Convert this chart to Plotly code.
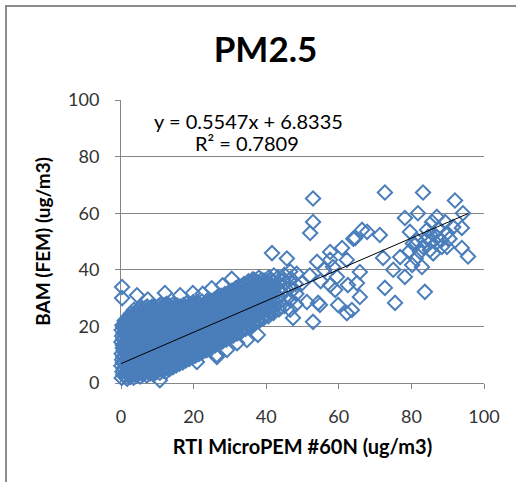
import plotly.graph_objects as go

# ---- data (x = RTI MicroPEM #60N, y = BAM FEM), ug/m3 ----
# dense low-concentration cluster
core_points = [
    (0.2,1.8),(0.4,4.0),(0.1,6.1),(0.3,8.2),(0.2,10.3),(0.5,12.4),(0.1,14.5),(0.3,16.6),(0.2,18.7),(0.4,20.4),
    (1.0,2.5),(0.9,4.8),(1.1,7.1),(0.8,9.4),(1.0,11.6),(1.2,13.7),(0.9,15.9),(1.1,18.1),(0.8,20.5),(1.0,22.0),
    (1.7,1.5),(1.9,3.6),(1.6,5.9),(1.8,8.3),(1.7,10.6),(2.0,12.9),(1.6,15.2),(1.8,17.4),(1.9,19.6),(1.7,21.7),(2.0,23.3),
    (2.6,2.1),(2.8,4.4),(2.5,6.7),(2.7,9.0),(2.6,11.3),(2.9,13.5),(2.5,15.8),(2.7,18.0),(2.8,20.2),(2.6,22.6),(2.7,24.5),
    (3.5,1.9),(3.6,4.1),(3.4,6.4),(3.7,8.6),(3.5,10.9),(3.3,13.1),(3.6,15.4),(3.5,17.7),(3.4,19.9),(3.7,22.1),(3.5,24.3),(3.6,25.9),
    (4.4,2.8),(4.6,5.0),(4.3,7.3),(4.5,9.6),(4.4,11.8),(4.2,14.1),(4.5,16.3),(4.4,18.6),(4.6,20.8),(4.3,23.0),(4.5,25.2),
    (5.3,2.3),(5.2,4.6),(5.4,6.8),(5.3,9.1),(5.5,11.4),(5.1,13.6),(5.3,15.9),(5.4,18.1),(5.2,20.4),(5.3,22.7),(5.5,24.9),(5.2,26.6),
    (6.2,3.1),(6.3,5.4),(6.1,7.7),(6.4,9.9),(6.2,12.2),(6.0,14.5),(6.3,16.7),(6.2,19.0),(6.1,21.2),(6.4,23.5),(6.2,25.7),
    (7.1,2.7),(7.2,4.9),(7.0,7.2),(7.3,9.4),(7.1,11.7),(6.9,13.9),(7.2,16.2),(7.1,18.4),(7.0,20.7),(7.3,22.9),(7.1,25.1),(7.2,27.0),
    (8.0,3.4),(8.1,5.7),(7.9,8.0),(8.2,10.3),(8.0,12.5),(7.8,14.8),(8.1,17.0),(8.0,19.3),(7.9,21.5),(8.2,23.8),(8.0,26.1),
    (8.9,3.0),(9.0,5.2),(8.8,7.5),(9.1,9.8),(8.9,12.0),(8.7,14.3),(9.0,16.5),(8.9,18.8),(8.8,21.0),(9.1,23.3),(8.9,25.5),(9.0,27.2),
    (9.8,3.9),(9.9,6.1),(9.7,8.4),(10.0,10.6),(9.8,12.9),(9.6,15.1),(9.9,17.4),(9.8,19.6),(9.7,21.9),(10.0,24.1),(9.8,26.4),
    (10.7,3.6),(10.8,5.8),(10.6,8.1),(10.9,10.3),(10.7,12.6),(10.5,14.8),(10.8,17.1),(10.7,19.3),(10.6,21.6),(10.9,23.8),(10.7,26.0),(10.8,27.6),
    (11.6,4.4),(11.7,6.6),(11.5,8.9),(11.8,11.1),(11.6,13.4),(11.4,15.6),(11.7,17.9),(11.6,20.1),(11.5,22.4),(11.8,24.6),(11.6,26.8),
    (12.5,4.1),(12.6,6.3),(12.4,8.6),(12.7,10.8),(12.5,13.1),(12.3,15.3),(12.6,17.6),(12.5,19.8),(12.4,22.1),(12.7,24.3),(12.5,26.5),(12.6,28.0),
    (13.4,5.0),(13.5,7.2),(13.3,9.5),(13.6,11.7),(13.4,14.0),(13.2,16.2),(13.5,18.5),(13.4,20.7),(13.3,23.0),(13.6,25.2),(13.4,27.3),
    (14.3,5.6),(14.4,7.8),(14.2,10.1),(14.5,12.3),(14.3,14.6),(14.1,16.8),(14.4,19.1),(14.3,21.3),(14.2,23.6),(14.5,25.8),(14.3,27.7),
    (15.2,6.2),(15.3,8.4),(15.1,10.7),(15.4,12.9),(15.2,15.2),(15.0,17.4),(15.3,19.7),(15.2,21.9),(15.1,24.2),(15.4,26.4),
    (16.1,6.8),(16.2,9.0),(16.0,11.3),(16.3,13.5),(16.1,15.8),(15.9,18.0),(16.2,20.3),(16.1,22.5),(16.0,24.8),(16.3,27.0),
    (17.0,7.3),(17.1,9.6),(16.9,11.8),(17.2,14.1),(17.0,16.3),(16.8,18.6),(17.1,20.8),(17.0,23.1),(16.9,25.3),(17.2,27.5),
    (17.9,8.0),(18.0,10.2),(17.8,12.5),(18.1,14.7),(17.9,17.0),(17.7,19.2),(18.0,21.5),(17.9,23.7),(17.8,26.0),(18.1,28.1),
    (18.8,8.5),(18.9,10.8),(18.7,13.0),(19.0,15.3),(18.8,17.5),(18.6,19.8),(18.9,22.0),(18.8,24.3),(18.7,26.5),
    (19.7,9.1),(19.8,11.4),(19.6,13.6),(19.9,15.9),(19.7,18.1),(19.5,20.4),(19.8,22.6),(19.7,24.9),(19.6,27.1),(19.9,28.6),
    (20.6,9.7),(20.7,11.9),(20.5,14.2),(20.8,16.4),(20.6,18.7),(20.4,20.9),(20.7,23.2),(20.6,25.4),(20.5,27.7),
    (21.5,10.3),(21.6,12.5),(21.4,14.8),(21.7,17.0),(21.5,19.3),(21.3,21.5),(21.6,23.8),(21.5,26.0),(21.4,28.2),
    (22.4,10.9),(22.5,13.1),(22.3,15.4),(22.6,17.6),(22.4,19.9),(22.2,22.1),(22.5,24.4),(22.4,26.6),(22.3,28.8),
    (23.3,11.6),(23.4,13.8),(23.2,16.1),(23.5,18.3),(23.3,20.6),(23.1,22.8),(23.4,25.1),(23.3,27.3),
    (24.2,12.2),(24.3,14.4),(24.1,16.7),(24.4,18.9),(24.2,21.2),(24.0,23.4),(24.3,25.7),(24.2,27.9),(24.1,29.6),
    (25.1,12.8),(25.2,15.0),(25.0,17.3),(25.3,19.5),(25.1,21.8),(24.9,24.0),(25.2,26.3),(25.1,28.5),
]

# more readings inside the same dense cluster
core_points_b = [
    (0.6,2.9),(0.7,5.0),(0.5,7.2),(0.6,9.2),(0.7,11.3),(0.5,13.4),(0.6,15.5),(0.7,17.6),(0.6,19.6),
    (1.4,3.6),(1.3,5.9),(1.5,8.2),(1.4,10.5),(1.3,12.6),(1.5,14.8),(1.4,17.0),(1.3,19.3),(1.4,21.2),
    (2.2,2.5),(2.3,4.7),(2.1,7.1),(2.2,9.4),(2.3,11.7),(2.1,14.0),(2.2,16.3),(2.3,18.5),(2.1,20.6),(2.2,22.5),
    (3.0,3.2),(3.1,5.5),(2.9,7.8),(3.0,10.1),(3.1,12.4),(2.9,14.6),(3.0,16.9),(3.1,19.1),(3.0,21.4),(2.9,23.5),
    (3.9,3.0),(4.0,5.2),(3.8,7.5),(3.9,9.7),(4.0,12.0),(3.8,14.2),(3.9,16.5),(4.0,18.8),(3.9,21.0),(3.8,23.2),(4.0,25.1),
    (4.8,3.9),(4.9,6.1),(4.7,8.4),(4.8,10.7),(4.9,12.9),(4.7,15.2),(4.8,17.4),(4.9,19.7),(4.8,21.9),(4.7,24.1),(4.9,26.0),
    (5.7,3.4),(5.8,5.7),(5.6,7.9),(5.7,10.2),(5.8,12.5),(5.6,14.7),(5.7,17.0),(5.8,19.2),(5.7,21.5),(5.6,23.8),(5.8,25.8),
    (6.6,4.2),(6.7,6.5),(6.5,8.8),(6.6,11.0),(6.7,13.3),(6.5,15.6),(6.6,17.8),(6.7,20.1),(6.6,22.3),(6.5,24.6),(6.7,26.5),
    (7.5,3.8),(7.6,6.0),(7.4,8.3),(7.5,10.5),(7.6,12.8),(7.4,15.0),(7.5,17.3),(7.6,19.5),(7.5,21.8),(7.4,24.0),(7.6,26.1),
    (8.4,4.5),(8.5,6.8),(8.3,9.1),(8.4,11.4),(8.5,13.6),(8.3,15.9),(8.4,18.1),(8.5,20.4),(8.4,22.6),(8.3,24.9),(8.5,26.9),
    (9.3,4.1),(9.4,6.3),(9.2,8.6),(9.3,10.9),(9.4,13.1),(9.2,15.4),(9.3,17.6),(9.4,19.9),(9.3,22.1),(9.2,24.4),(9.4,26.4),
    (10.2,5.0),(10.3,7.2),(10.1,9.5),(10.2,11.7),(10.3,14.0),(10.1,16.2),(10.2,18.5),(10.3,20.7),(10.2,23.0),(10.1,25.2),(10.3,27.1),
    (11.1,4.7),(11.2,6.9),(11.0,9.2),(11.1,11.4),(11.2,13.7),(11.0,15.9),(11.1,18.2),(11.2,20.4),(11.1,22.7),(11.0,24.9),(11.2,26.8),
    (12.0,5.5),(12.1,7.7),(11.9,10.0),(12.0,12.2),(12.1,14.5),(11.9,16.7),(12.0,19.0),(12.1,21.2),(12.0,23.5),(11.9,25.7),(12.1,27.5),
    (12.9,5.2),(13.0,7.4),(12.8,9.7),(12.9,11.9),(13.0,14.2),(12.8,16.4),(12.9,18.7),(13.0,20.9),(12.9,23.2),(12.8,25.4),(13.0,27.3),
    (13.8,6.1),(13.9,8.3),(13.7,10.6),(13.8,12.8),(13.9,15.1),(13.7,17.3),(13.8,19.6),(13.9,21.8),(13.8,24.1),(13.7,26.3),
    (14.7,6.7),(14.8,8.9),(14.6,11.2),(14.7,13.4),(14.8,15.7),(14.6,17.9),(14.7,20.2),(14.8,22.4),(14.7,24.7),(14.6,26.8),
    (15.6,7.3),(15.7,9.5),(15.5,11.8),(15.6,14.0),(15.7,16.3),(15.5,18.5),(15.6,20.8),(15.7,23.0),(15.6,25.3),(15.5,27.4),
    (16.5,7.9),(16.6,10.1),(16.4,12.4),(16.5,14.6),(16.6,16.9),(16.4,19.1),(16.5,21.4),(16.6,23.6),(16.5,25.9),
    (17.4,8.4),(17.5,10.7),(17.3,12.9),(17.4,15.2),(17.5,17.4),(17.3,19.7),(17.4,21.9),(17.5,24.2),(17.4,26.4),
    (18.3,9.1),(18.4,11.3),(18.2,13.6),(18.3,15.8),(18.4,18.1),(18.2,20.3),(18.3,22.6),(18.4,24.8),(18.3,27.0),
    (19.2,9.6),(19.3,11.9),(19.1,14.1),(19.2,16.4),(19.3,18.6),(19.1,20.9),(19.2,23.1),(19.3,25.4),(19.2,27.6),
    (20.1,10.2),(20.2,12.5),(20.0,14.7),(20.1,17.0),(20.2,19.2),(20.0,21.5),(20.1,23.7),(20.2,26.0),(20.1,28.0),
    (21.0,10.8),(21.1,13.0),(20.9,15.3),(21.0,17.5),(21.1,19.8),(20.9,22.0),(21.0,24.3),(21.1,26.5),(21.0,28.5),
    (21.9,11.4),(22.0,13.6),(21.8,15.9),(21.9,18.1),(22.0,20.4),(21.8,22.6),(21.9,24.9),(22.0,27.1),
    (22.8,12.0),(22.9,14.2),(22.7,16.5),(22.8,18.7),(22.9,21.0),(22.7,23.2),(22.8,25.5),(22.9,27.7),
    (23.7,12.7),(23.8,14.9),(23.6,17.2),(23.7,19.4),(23.8,21.7),(23.6,23.9),(23.7,26.2),(23.8,28.4),
    (24.6,13.3),(24.7,15.5),(24.5,17.8),(24.6,20.0),(24.7,22.3),(24.5,24.5),(24.6,26.8),(24.7,29.0),
    (25.5,13.9),(25.6,16.1),(25.4,18.4),(25.5,20.6),(25.6,22.9),(25.4,25.1),(25.5,27.4),(25.6,29.4),
]

# medium-concentration band
mid_points = [
    (26.0,13.4),(26.1,15.6),(25.9,17.9),(26.2,20.1),(26.0,22.4),(25.8,24.6),(26.1,26.9),(26.0,29.1),
    (27.0,14.0),(27.1,16.3),(26.9,18.5),(27.2,20.8),(27.0,23.0),(26.8,25.3),(27.1,27.5),(27.0,29.8),
    (28.0,14.7),(28.1,16.9),(27.9,19.2),(28.2,21.4),(28.0,23.7),(27.8,25.9),(28.1,28.2),(28.0,30.4),
    (29.0,15.3),(29.1,17.6),(28.9,19.8),(29.2,22.1),(29.0,24.3),(28.8,26.6),(29.1,28.8),(29.0,31.0),
    (30.0,16.0),(30.1,18.2),(29.9,20.5),(30.2,22.7),(30.0,25.0),(29.8,27.2),(30.1,29.5),(30.0,31.6),
    (31.0,16.8),(31.1,19.0),(30.9,21.3),(31.2,23.5),(31.0,25.8),(30.8,28.0),(31.1,30.3),(31.0,32.4),
    (32.0,17.5),(32.1,19.7),(31.9,22.0),(32.2,24.2),(32.0,26.5),(31.8,28.7),(32.1,31.0),(32.0,33.1),
    (33.2,18.3),(33.3,20.6),(33.1,22.8),(33.4,25.1),(33.2,27.3),(33.0,29.6),(33.3,31.8),(33.2,34.0),
    (34.4,19.2),(34.5,21.4),(34.3,23.7),(34.6,25.9),(34.4,28.2),(34.2,30.4),(34.5,32.7),(34.4,34.8),
    (35.6,20.0),(35.7,22.3),(35.5,24.5),(35.8,26.8),(35.6,29.0),(35.4,31.3),(35.7,33.5),(35.6,35.6),
    (36.8,21.0),(36.9,23.2),(36.7,25.5),(37.0,27.7),(36.8,30.0),(36.6,32.2),(36.9,34.5),(36.8,36.4),
    (38.0,21.8),(38.1,24.1),(37.9,26.3),(38.2,28.6),(38.0,30.8),(37.8,33.1),(38.1,35.3),(38.0,37.2),
    (39.3,22.9),(39.4,25.1),(39.2,27.4),(39.5,29.6),(39.3,31.9),(39.1,34.1),(39.4,36.2),
    (40.6,23.6),(40.7,26.0),(40.5,28.3),(40.8,30.5),(40.6,32.8),(40.4,35.0),(40.7,37.3),
    (42.0,24.8),(42.1,27.1),(41.9,29.3),(42.2,31.6),(42.0,33.8),(41.8,36.1),(42.1,38.0),
    (43.5,26.0),(43.6,28.4),(43.4,30.6),(43.7,32.9),(43.5,35.1),(43.3,37.3),
    (45.0,27.2),(45.1,30.1),(44.9,32.8),(45.2,35.4),(45.0,38.2),
    (46.6,25.9),(46.7,29.3),(46.5,33.6),(46.8,36.9),(46.6,39.4),
    (48.2,27.8),(48.3,31.5),(48.1,35.0),(48.4,38.6),
    (26.5,14.5),(26.6,16.7),(26.4,19.0),(26.5,21.2),(26.6,23.5),(26.4,25.7),(26.5,28.0),(26.6,30.1),
    (27.5,15.1),(27.6,17.4),(27.4,19.6),(27.5,21.9),(27.6,24.1),(27.4,26.4),(27.5,28.6),(27.6,30.8),
    (28.5,15.8),(28.6,18.0),(28.4,20.3),(28.5,22.5),(28.6,24.8),(28.4,27.0),(28.5,29.3),(28.6,31.4),
    (29.5,16.4),(29.6,18.7),(29.4,20.9),(29.5,23.2),(29.6,25.4),(29.4,27.7),(29.5,29.9),(29.6,32.0),
    (30.5,17.1),(30.6,19.3),(30.4,21.6),(30.5,23.8),(30.6,26.1),(30.4,28.3),(30.5,30.6),(30.6,32.7),
    (31.5,17.9),(31.6,20.1),(31.4,22.4),(31.5,24.6),(31.6,26.9),(31.4,29.1),(31.5,31.4),(31.6,33.5),
    (32.6,18.6),(32.7,20.9),(32.5,23.1),(32.6,25.4),(32.7,27.6),(32.5,29.9),(32.6,32.1),(32.7,34.2),
    (33.8,19.5),(33.9,21.7),(33.7,24.0),(33.8,26.2),(33.9,28.5),(33.7,30.7),(33.8,33.0),(33.9,35.0),
    (35.0,20.3),(35.1,22.6),(34.9,24.8),(35.0,27.1),(35.1,29.3),(34.9,31.6),(35.0,33.8),(35.1,35.9),
    (36.2,21.2),(36.3,23.4),(36.1,25.7),(36.2,27.9),(36.3,30.2),(36.1,32.4),(36.2,34.7),(36.3,36.6),
    (37.4,22.1),(37.5,24.4),(37.3,26.6),(37.4,28.9),(37.5,31.1),(37.3,33.4),(37.4,35.6),
    (38.7,23.0),(38.8,25.3),(38.6,27.5),(38.7,29.8),(38.8,32.0),(38.6,34.3),(38.7,36.5),
    (40.0,24.1),(40.1,26.4),(39.9,28.6),(40.0,30.9),(40.1,33.1),(39.9,35.4),
    (41.3,25.0),(41.4,27.3),(41.2,29.6),(41.3,31.8),(41.4,34.1),(41.2,36.3),
]

# scattered individual readings
sparse_points = [
    (0.3,33.9),(0.3,30.0),(4.4,31.0),(7.4,29.5),(12.1,31.8),(16.3,31.0),(19.8,31.8),
    (22.5,31.5),(25.0,33.5),(28.0,34.5),(30.5,36.8),
    (10.7,1.0),(20.9,7.4),(23.7,11.7),(26.4,9.2),(26.4,9.9),(29.2,11.7),(32.0,14.1),
    (34.7,15.2),(37.7,17.0),
    (41.6,45.9),(45.7,44.0),(47.4,23.0),(44.6,36.4),(49.9,35.3),(51.2,28.6),(47.4,33.0),
    (52.9,65.2),(52.9,56.9),(52.1,53.0),(54.0,42.8),(57.6,46.3),(60.9,47.7),(62.2,43.5),
    (57.6,43.5),(58.4,41.0),(59.0,32.9),(57.6,34.6),(59.5,37.5),(62.5,34.6),(59.8,27.6),
    (62.2,24.7),(52.9,21.6),(54.8,27.6),(54.3,28.3),(55.0,36.0),(52.0,38.0),(56.0,40.0),
    (64.5,51.2),(66.4,54.1),(67.8,53.4),(71.3,52.3),(72.2,44.2),(72.7,33.6),(75.5,28.3),
    (65.8,39.2),(65.0,35.3),(65.8,30.4),(63.6,25.8),(64.0,51.0),
    (72.7,67.3),(83.2,67.3),(92.0,64.5),(78.2,58.3),(81.8,60.0),(94.2,60.0),(93.9,54.8),
    (93.9,47.7),(95.6,44.7),(76.9,44.5),(78.2,37.5),(80.2,41.7),(75.0,40.0),(82.9,41.0),
    (83.7,32.2),(79.6,53.4),(81.5,50.5),(83.2,48.1),(85.1,47.0),(87.0,51.6),(89.8,53.0),
    (88.4,48.1),(84.3,54.1),(85.7,56.9),(87.0,58.7),(89.3,56.9),(91.5,55.1),(81.0,48.8),
    (82.4,46.3),(89.8,48.1),(84.6,51.7),(86.1,52.6),(86.8,49.5),(85.3,49.9),(83.8,50.3),
    (87.5,54.6),(80.4,49.3),(79.5,46.6),(81.2,44.0),(90.5,51.0),(88.2,50.4),(86.0,45.8),
]

slope = 0.5547
intercept = 6.8335
r_squared = 0.7809

x_ticks = [0, 20, 40, 60, 80, 100]
y_ticks = [0, 20, 40, 60, 80, 100]

title_text = "PM2.5"
x_title = "RTI MicroPEM #60N (ug/m3)"
y_title = "BAM (FEM) (ug/m3)"

# ---- build ----
all_points = core_points + core_points_b + mid_points + sparse_points
pem = [p[0] for p in all_points]
bam = [p[1] for p in all_points]

BLUE = "#4A7EBB"
GRAY = "#868686"
TXT = "#333333"
FONT = "Lato"

fig = go.Figure()
fig.add_trace(go.Scatter(
    x=pem, y=bam, mode="markers", cliponaxis=False,
    marker=dict(symbol="diamond-open", size=11, color=BLUE, line=dict(width=2, color=BLUE)),
    showlegend=False, hoverinfo="skip",
))
x_end = [0, max(pem)]
fig.add_trace(go.Scatter(
    x=x_end, y=[slope * v + intercept for v in x_end], mode="lines",
    line=dict(color="black", width=1), showlegend=False, hoverinfo="skip",
))

W, H = 516, 482
L, R, T, B = 121, 32, 100, 99
pw, ph = W - L - R, H - T - B

def px2paper_x(px):
    return (px - L) / pw

def px2paper_y(py):
    return (H - B - py) / ph

fig.update_layout(
    width=W, height=H, autosize=False,
    margin=dict(l=L, r=R, t=T, b=B),
    paper_bgcolor="white", plot_bgcolor="white",
    font=dict(family=FONT, color=TXT),
    title=dict(text=f"<b>{title_text}</b>", x=265.5 / W, xanchor="center",
               y=1 - 50 / H, yanchor="middle", font=dict(size=35, color="black", family=FONT)),
    xaxis=dict(range=[0, 100], tickvals=x_ticks, showgrid=False, zeroline=False,
               showline=True, linecolor=GRAY, linewidth=1, ticks="outside", ticklen=5,
               tickcolor=GRAY, tickfont=dict(size=18, color=TXT, family=FONT),
               ticklabelstandoff=12, layer="below traces", automargin=False,
               title=dict(text=f"<b>{x_title}</b>", font=dict(size=20, color="black", family=FONT),
                          standoff=14)),
    yaxis=dict(range=[0, 100], tickvals=y_ticks, showgrid=True, gridcolor=GRAY, gridwidth=1,
               zeroline=False, showline=True, linecolor=GRAY, linewidth=1, ticks="outside",
               ticklen=5, tickcolor=GRAY, tickfont=dict(size=18, color=TXT, family=FONT),
               ticklabelstandoff=12, layer="below traces", automargin=False,
               title=dict(text=f"<b>{y_title}</b>", font=dict(size=19, color="black", family=FONT),
                          standoff=12)),
    annotations=[
        dict(text=f"y = {slope}x + {intercept}", xref="paper", yref="paper",
             x=px2paper_x(152), y=px2paper_y(121), xanchor="left", yanchor="middle",
             showarrow=False, font=dict(size=20, color="black", family=FONT)),
        dict(text=f"R² = {r_squared}", xref="paper", yref="paper",
             x=px2paper_x(193), y=px2paper_y(143), xanchor="left", yanchor="middle",
             showarrow=False, font=dict(size=20, color="black", family=FONT)),
    ],
    shapes=[
        dict(type="rect", xref="paper", yref="paper", layer="below",
             x0=px2paper_x(6), x1=px2paper_x(540), y0=px2paper_y(510), y1=px2paper_y(6),
             line=dict(color="#8C8C8C", width=2), fillcolor="rgba(0,0,0,0)"),
    ],
)

fig.write_html("out.html", config={"displayModeBar": False},
               post_script="document.body.style.margin='0';")
